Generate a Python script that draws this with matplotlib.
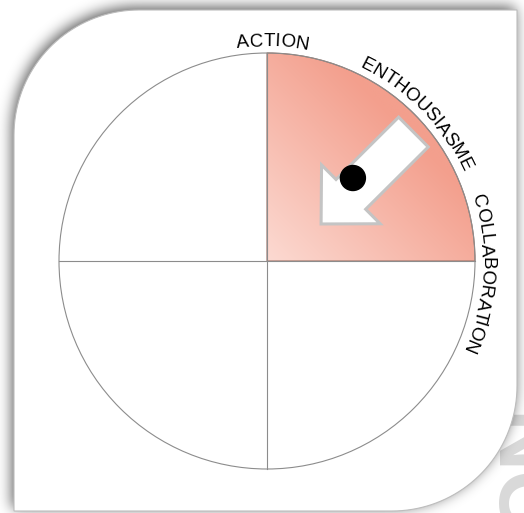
import numpy as np
import matplotlib
matplotlib.use("Agg")
import matplotlib.pyplot as plt
from matplotlib.patches import Circle, Wedge, FancyArrow, Polygon
from matplotlib.path import Path
from matplotlib.font_manager import FontProperties
from matplotlib.colors import to_rgb

# diagram content (unit circle coordinates)
labels = ["ACTION", "ENTHOUSIASME", "COLLABORATION"]
label_angles = [88.5, 44.5, -3.5]      # degrees, centre of each label
highlight = (0, 90)                    # highlighted quadrant
dot = (0.413, 0.399)
arrow_from = (0.704, 0.620)
arrow_to = (0.260, 0.178)
watermark = "NO"

W, H = 524, 513
CX, CY, R = 267, 261, 208   # circle centre / radius in pixels


def u(px):
    return (px - CX) / R


def v(py):
    return (CY - py) / R


fig = plt.figure(figsize=(W / 100, H / 100), dpi=100)
ax = fig.add_axes([0, 0, 1, 1])
ax.set_xlim(u(0), u(W))
ax.set_ylim(v(H), v(0))
ax.axis("off")

# card outline (pixel coords)
L, T, RR, B, rad = 14, 10, 517, 511, 125
a1 = np.linspace(np.pi, 1.5 * np.pi, 40)
a2 = np.linspace(0, 0.5 * np.pi, 40)
xs = np.concatenate([L + rad + rad * np.cos(a1), [RR, RR], RR - rad + rad * np.cos(a2), [L]])
ys = np.concatenate([T + rad + rad * np.sin(a1), [T, B - rad], B - rad + rad * np.sin(a2), [B]])

# watermark behind card
ax.text(u(493), v(413), watermark, rotation=-90, rotation_mode="anchor",
        ha="left", va="baseline", fontsize=62, fontweight="bold",
        family="Liberation Sans", color="#d9d9d9", zorder=1)

# blurred shadow
yy, xx = np.mgrid[0:H, 0:W] + 0.5
sh = Path(np.c_[xs - 2, ys - 3])
m = sh.contains_points(np.c_[xx.ravel(), yy.ravel()]).reshape(H, W).astype(float)
sig = 7
k = np.exp(-0.5 * (np.arange(-25, 26) / sig) ** 2)
k /= k.sum()
b = np.apply_along_axis(lambda r: np.convolve(r, k, mode="same"), 1, m)
b = np.apply_along_axis(lambda c: np.convolve(c, k, mode="same"), 0, b)
shadow = np.zeros((H, W, 4))
shadow[..., 3] = 0.65 * b
ax.imshow(shadow, extent=[u(0), u(W), v(H), v(0)], origin="upper",
          aspect="auto", zorder=2, interpolation="bilinear")

card = Polygon(np.c_[u(xs), v(ys)], closed=True, facecolor="white",
               edgecolor="#bdbdbd", lw=0.8, zorder=3)
ax.add_patch(card)

# highlighted quadrant with diagonal gradient
light = np.array(to_rgb("#fcdad2"))
dark = np.array(to_rgb("#f39f8d"))
g = np.linspace(0, 1, 300)
t = np.clip(np.add.outer(g, g) / 1.3, 0, 1)
img = light + (dark - light) * t[..., None]
wedge = Wedge((0, 0), 1, highlight[0], highlight[1], facecolor="none",
              edgecolor="#a07468", lw=0.8, zorder=4)
im = ax.imshow(img, extent=[0, 1, 0, 1], origin="lower", aspect="auto", zorder=4)
ax.add_patch(wedge)
im.set_clip_path(wedge)

ax.add_patch(Circle((0, 0), 1, fill=False, ec="#8c8c8c", lw=0.8, zorder=5))
ax.plot([-1, 1], [0, 0], color="#8c8c8c", lw=0.8, zorder=5)
ax.plot([0, 0], [-1, 1], color="#8c8c8c", lw=0.8, zorder=5)

# arrow and dot
ax.add_patch(FancyArrow(arrow_from[0], arrow_from[1],
                        arrow_to[0] - arrow_from[0], arrow_to[1] - arrow_from[1],
                        width=42 / R, head_width=83 / R, head_length=42 / R,
                        length_includes_head=True, facecolor="white",
                        edgecolor="#c4c4c4", lw=2.2, zorder=6))
ax.add_patch(Circle(dot, 12.5 / R, color="black", zorder=7))

# curved labels
fp = FontProperties(family="Liberation Sans", size=13.5)
rend = fig.canvas.get_renderer()


def curved(text, ang, rb):
    pre = [0] + [rend.get_text_width_height_descent(text[:i + 1], fp, ismath=False)[0]
                 for i in range(len(text))]
    total = pre[-1]
    for i, ch in enumerate(text):
        mid = (pre[i] + pre[i + 1]) / 2
        th = np.radians(ang) - (mid - total / 2) / rb
        ax.text(rb / R * np.cos(th), rb / R * np.sin(th), ch, fontproperties=fp,
                rotation=np.degrees(th) - 90, rotation_mode="anchor",
                ha="center", va="baseline", zorder=8)


for lab, ang in zip(labels, label_angles):
    curved(lab, ang, 215)

fig.savefig("out.png", dpi=100)
